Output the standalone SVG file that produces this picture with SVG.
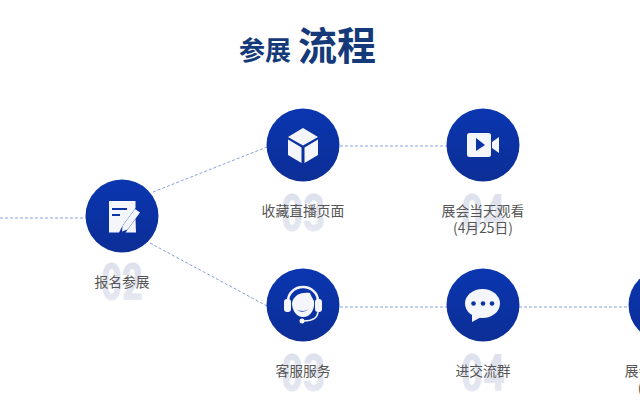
<svg xmlns="http://www.w3.org/2000/svg" width="640" height="420" viewBox="0 0 640 420">
<style>
.t{font-family:"Noto Sans CJK SC","Noto Sans",sans-serif;font-weight:700;fill:#143a7a}
.l{font-family:"Noto Sans CJK SC","Noto Sans",sans-serif;font-size:13.800px;fill:#565656;text-anchor:middle}
.n{font-family:"Roboto","Liberation Sans",sans-serif;font-weight:900;font-size:52px;fill:url(#f);text-anchor:middle}
.c{fill:url(#g)}
.w{fill:#f4f6fb}
.b{fill:#0b33a4}
.d{fill:none;stroke:#87a0e0;stroke-width:1;stroke-dasharray:3 2}
</style>
<defs>
<linearGradient id="g" x1="0" y1="0" x2="0" y2="1"><stop offset="0" stop-color="#0a36b0"/><stop offset="1" stop-color="#0c2e96"/></linearGradient>
<linearGradient id="f" x1="0" y1="0" x2="0" y2="1"><stop offset="0" stop-color="#dce0eb"/><stop offset="0.700" stop-color="#e3e6ef"/><stop offset="1" stop-color="#f3f4f8"/></linearGradient>
</defs>
<rect width="640" height="420" fill="#fff"/>
<g id="title">
<text class="t" x="239" y="60" font-size="26">参展</text>
<text class="t" x="298" y="60" font-size="39">流程</text>
</g>
<g id="connectors">
<path class="d" d="M0 218H86"/>
<path class="d" d="M153 192L267 147"/>
<path class="d" d="M150 243L267 306"/>
<path class="d" d="M340 146H447"/>
<path class="d" d="M340 307H447"/>
<path class="d" d="M519 307H629"/>
</g>
<g id="node-02">
<text class="n" x="122" y="300" textLength="42" lengthAdjust="spacingAndGlyphs">02</text>
<circle class="c" cx="122" cy="216" r="36.500"/>
<path class="w" d="M109 201H135.500V208L123 225L119 232.500H109Z"/>
<path class="w" d="M136 232.500H125.500L135.500 219Z"/>
<path class="w" d="M135 209L140 212.500L127.500 229.500L122 231.500L122.500 226Z"/>
<path class="b" d="M112 208H127V210H112ZM112 214H120V216H112Z"/>
<text class="l" x="122" y="287">报名参展</text>
</g>
<g id="node-03a">
<text class="n" x="303" y="231" textLength="44" lengthAdjust="spacingAndGlyphs">03</text>
<circle class="c" cx="303" cy="145" r="36.500"/>
<path class="w" d="M303 128L318 137L303 145.500L288 137Z"/>
<path class="w" d="M288 139.500L301.500 147.500V163L288 155Z"/>
<path class="w" d="M318 139.500L304.500 147.500V163L318 155Z"/>
<text class="l" x="303" y="216">收藏直播页面</text>
</g>
<g id="node-04a">
<text class="n" x="483" y="231" textLength="44" lengthAdjust="spacingAndGlyphs">04</text>
<circle class="c" cx="483" cy="145" r="36.500"/>
<rect class="w" x="467" y="133" width="24" height="24" rx="2.500"/>
<path class="w" d="M492 142L499 137V153L492 148Z"/>
<path class="b" d="M476 138L485 145L476 151Z"/>
<text class="l" x="483" y="216">展会当天观看</text>
<text class="l" x="483" y="233">(4月25日)</text>
</g>
<g id="node-03b">
<text class="n" x="303" y="391" textLength="44" lengthAdjust="spacingAndGlyphs">03</text>
<circle class="c" cx="303" cy="305" r="36.500"/>
<path d="M288 306V301A15 14 0 0 1 318 301V306" fill="none" stroke="#f4f6fb" stroke-width="2.500"/>
<rect class="w" x="284" y="299" width="7" height="13" rx="3"/>
<rect class="w" x="315" y="299" width="7" height="13" rx="3"/>
<path class="w" d="M292 303C294 294 302 292 310 293C311 296 312 297 314 301C315 309 311 317 303 317C297 317 292 311 292 303Z"/>
<path class="b" d="M297 310Q303 314 309 309Q306 311 303 311Q300 311 297 310Z"/>
<path d="M318 312Q317 321 304 321" fill="none" stroke="#f4f6fb" stroke-width="1.500"/>
<circle class="w" cx="302" cy="321" r="2.500"/>
<text class="l" x="303" y="376">客服服务</text>
</g>
<g id="node-04b">
<text class="n" x="483" y="391" textLength="44" lengthAdjust="spacingAndGlyphs">04</text>
<circle class="c" cx="483" cy="305" r="36.500"/>
<ellipse class="w" cx="482.500" cy="303.500" rx="17.500" ry="14.500"/>
<path class="w" d="M472 312V322L483 316Z"/>
<circle class="b" cx="473.500" cy="303.500" r="2.300"/>
<circle class="b" cx="483" cy="303.500" r="2.300"/>
<circle class="b" cx="492" cy="303.500" r="2.300"/>
<text class="l" x="483" y="376">进交流群</text>
</g>
<g id="node-05">
<circle class="c" cx="665" cy="305" r="36.500"/>
<text class="l" x="638.500" y="376">展会</text>
<text class="l" x="640" y="393">(</text>
</g>
</svg>
